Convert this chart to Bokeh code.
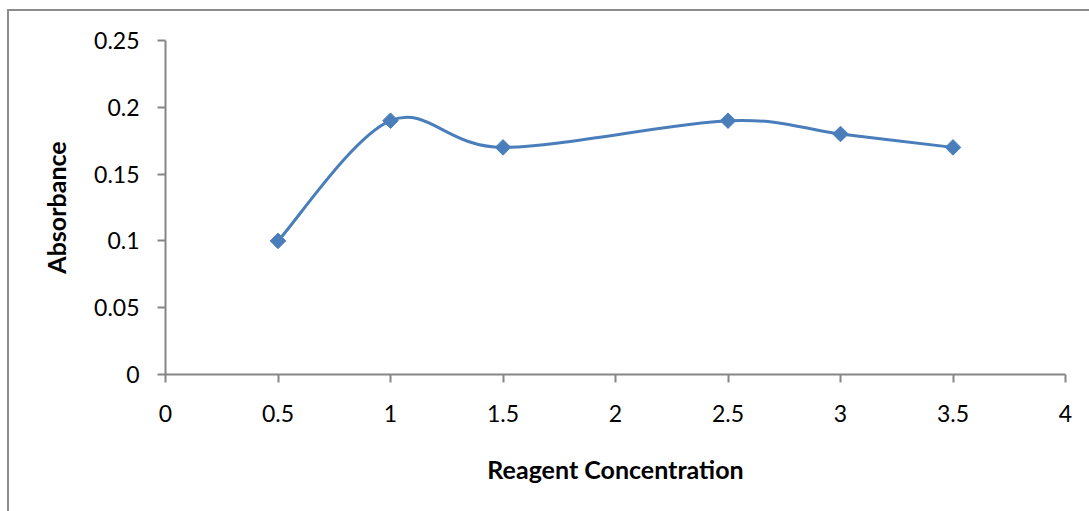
import math
from bokeh.plotting import figure
from bokeh.models import ColumnDataSource, FixedTicker, Range1d
from bokeh.embed import file_html
from bokeh.resources import INLINE

conc = [0.5, 1.0, 1.5, 2.5, 3.0, 3.5]
absorb = [0.10, 0.19, 0.17, 0.19, 0.18, 0.17]
x_ticks = [0, 0.5, 1, 1.5, 2, 2.5, 3, 3.5, 4]
y_ticks = [0, 0.05, 0.1, 0.15, 0.2, 0.25]

BLUE = "#4a7ebb"
GREY = "#868686"
FONT = "Lato"

p = figure(width=1090, height=510, output_backend="svg", toolbar_location=None,
           x_range=Range1d(0, 4), y_range=Range1d(0, 0.25),
           min_border_left=156, min_border_top=29, min_border_right=34, min_border_bottom=147)
p.styles = {"border": "2px solid #8c8c8c", "margin-left": "7px", "margin-top": "9px"}
p.outline_line_color = None
p.xgrid.visible = False
p.ygrid.visible = False

# Excel-style smoothed line (Catmull-Rom style bezier, control points from neighbouring data)
n = len(conc)
x0, y0, x1, y1, cx0, cy0, cx1, cy1 = [], [], [], [], [], [], [], []
for i in range(n - 1):
    pa = (conc[max(i - 1, 0)], absorb[max(i - 1, 0)])
    pb = (conc[i], absorb[i])
    pc = (conc[i + 1], absorb[i + 1])
    pd = (conc[min(i + 2, n - 1)], absorb[min(i + 2, n - 1)])
    x0.append(pb[0]); y0.append(pb[1]); x1.append(pc[0]); y1.append(pc[1])
    cx0.append(pb[0] + (pc[0] - pa[0]) / 6); cy0.append(pb[1] + (pc[1] - pa[1]) / 6)
    cx1.append(pc[0] - (pd[0] - pb[0]) / 6); cy1.append(pc[1] - (pd[1] - pb[1]) / 6)

bsrc = ColumnDataSource(dict(x0=x0, y0=y0, x1=x1, y1=y1, cx0=cx0, cy0=cy0, cx1=cx1, cy1=cy1))
p.bezier(x0="x0", y0="y0", x1="x1", y1="y1", cx0="cx0", cy0="cy0", cx1="cx1", cy1="cy1",
         source=bsrc, line_color=BLUE, line_width=3)

src = ColumnDataSource(dict(x=conc, y=absorb))
p.scatter("x", "y", source=src, marker="square", size=11, angle=math.pi / 4,
          fill_color=BLUE, line_color=BLUE, line_width=1)

for ax in (p.xaxis[0], p.yaxis[0]):
    ax.axis_line_color = GREY
    ax.axis_line_width = 2
    ax.major_tick_line_color = GREY
    ax.major_tick_line_width = 2
    ax.minor_tick_line_color = None
    ax.major_label_text_font = FONT
    ax.major_label_text_font_size = "23px"
    ax.major_label_text_color = "black"
    ax.axis_label_text_font = FONT
    ax.axis_label_text_font_style = "bold"
    ax.axis_label_text_font_size = "25px"
    ax.axis_label_text_color = "black"

p.xaxis.ticker = FixedTicker(ticks=x_ticks)
p.yaxis.ticker = FixedTicker(ticks=y_ticks)
p.xaxis.major_label_overrides = {0: "0", 0.5: "0.5", 1: "1", 1.5: "1.5", 2: "2", 2.5: "2.5", 3: "3", 3.5: "3.5", 4: "4"}
p.yaxis.major_label_overrides = {0: "0", 0.05: "0.05", 0.1: "0.1", 0.15: "0.15", 0.2: "0.2", 0.25: "0.25"}
p.xaxis.major_tick_out = 8
p.xaxis.major_tick_in = 0
p.yaxis.major_tick_out = 8
p.yaxis.major_tick_in = 0
p.xaxis.major_label_standoff = 22
p.yaxis.major_label_standoff = 18
p.xaxis.axis_label = "Reagent Concentration"
p.yaxis.axis_label = "Absorbance"
p.xaxis.axis_label_standoff = 29
p.yaxis.axis_label_standoff = 20

open("out.html", "w").write(file_html(p, INLINE))
